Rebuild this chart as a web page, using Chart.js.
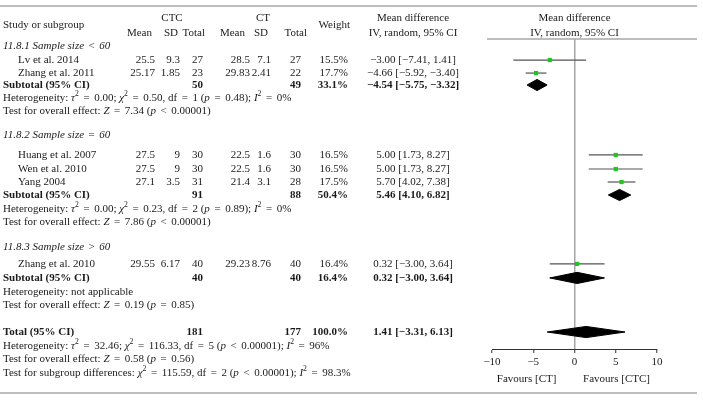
<!DOCTYPE html>
<html>
<head>
<meta charset="utf-8">
<script src="https://cdn.jsdelivr.net/npm/chart.js@4/dist/chart.umd.min.js"></script>
<style>
  html, body { margin: 0; padding: 0; background: #fff; }
  #forest { display: block; }
</style>
</head>
<body>
<canvas id="forest" width="703" height="401"></canvas>
<script>
// ---- data ----
var groups = ['11.8.1 Sample size < 60', '11.8.2 Sample size = 60', '11.8.3 Sample size > 60'];
var studies = ['Lv et al. 2014', 'Zhang et al. 2011', 'Huang et al. 2007', 'Wen et al. 2010', 'Yang 2004', 'Zhang et al. 2010'];
var ctcMean = [25.5, 25.17, 27.5, 27.5, 27.1, 29.55];
var ctcSd = [9.3, 1.85, 9, 9, 3.5, 6.17];
var ctcTotal = [27, 23, 30, 30, 31, 40];
var ctMean = [28.5, 29.83, 22.5, 22.5, 21.4, 29.23];
var ctSd = [7.1, 2.41, 1.6, 1.6, 3.1, 8.76];
var ctTotal = [27, 22, 30, 30, 28, 40];
var weights = [15.5, 17.7, 16.5, 16.5, 17.5, 16.4];
var md = [-3.00, -4.66, 5.00, 5.00, 5.70, 0.32];
var ciLow = [-7.41, -5.92, 1.73, 1.73, 4.02, -3.00];
var ciHigh = [1.41, -3.40, 8.27, 8.27, 7.38, 3.64];

var subCtc = [50, 91, 40];
var subCt = [49, 88, 40];
var subWeight = [33.1, 50.4, 16.4];
var subMd = [-4.54, 5.46, 0.32];
var subLow = [-5.75, 4.10, -3.00];
var subHigh = [-3.32, 6.82, 3.64];
var subHetero = [
  'Heterogeneity: _τ_^2 = 0.00; _χ_^2 = 0.50, df = 1 (_p_ = 0.48); _I_^2 = 0%',
  'Heterogeneity: _τ_^2 = 0.00; _χ_^2 = 0.23, df = 2 (_p_ = 0.89); _I_^2 = 0%',
  'Heterogeneity: not applicable'
];
var subTest = [
  'Test for overall effect: _Z_ = 7.34 (_p_ < 0.00001)',
  'Test for overall effect: _Z_ = 7.86 (_p_ < 0.00001)',
  'Test for overall effect: _Z_ = 0.19 (_p_ = 0.85)'
];

var totalCtc = 181, totalCt = 177, totalWeight = 100.0;
var totalMd = 1.41, totalLow = -3.31, totalHigh = 6.13;
var totalNotes = [
  'Heterogeneity: _τ_^2 = 32.46; _χ_^2 = 116.33, df = 5 (_p_ < 0.00001); _I_^2 = 96%',
  'Test for overall effect: _Z_ = 0.58 (_p_ = 0.56)',
  'Test for subgroup differences: _χ_^2 = 115.59, df = 2 (_p_ < 0.00001); _I_^2 = 98.3%'
];
var xTicks = [-10, -5, 0, 5, 10];

// ---- layout (row units, 13px per row from the header line) ----
var groupRows = [0.54, 7.38, 16.0];
var studyRows = [1.62, 2.62, 8.92, 10.0, 11.0, 17.3];
var subRows = [3.54, 12.0, 18.38];
var heteroRows = [4.54, 13.08, 19.46];
var testRows = [5.54, 14.08, 20.46];
var totalRow = 22.54;
var noteRows = [23.62, 24.62, 25.69];
var DIAMOND_H = 0.43;

var FONT = '"Liberation Serif", "DejaVu Serif", serif';
var SIZE = 11;
var OP_GAP = 1.8;   // extra room either side of = < >
var INK = '#1a1a1a';

function minus(s) { return String(s).replace(/-/g, '−'); }
function fix2(v) { return minus(v.toFixed(2)); }
function ciText(m, lo, hi) { return fix2(m) + ' [' + fix2(lo) + ', ' + fix2(hi) + ']'; }

function fontFor(italic, bold, size) {
  return (italic ? 'italic ' : '') + (bold ? 'bold ' : '') + size + 'px ' + FONT;
}

// tiny markup: _..._ italic, ^x superscript char
function parseRich(str) {
  var segs = [], italic = false, buf = '';
  var flush = function () { if (buf) segs.push({ t: buf, i: italic }); buf = ''; };
  for (var i = 0; i < str.length; i++) {
    var c = str[i];
    if (c === '_') {
      flush(); italic = !italic;
    } else if (c === '^') {
      flush();
      segs.push({ t: str[i + 1], i: false, sup: true });
      i++;
    } else if (c === '=' || c === '<' || c === '>') {
      flush();
      segs.push({ t: c, i: false, op: true });
    } else {
      buf += c;
    }
  }
  flush();
  return segs;
}

function drawRich(ctx, str, x, y, align, bold) {
  var segs = parseRich(str), w = 0;
  segs.forEach(function (s) {
    ctx.font = fontFor(s.i, bold, s.sup ? SIZE * 0.7 : SIZE);
    s.w = ctx.measureText(s.t).width + (s.op ? OP_GAP * 2 : 0);
    w += s.w;
  });
  var cx = align === 'right' ? x - w : (align === 'center' ? x - w / 2 : x);
  ctx.textAlign = 'left';
  ctx.textBaseline = 'middle';
  ctx.fillStyle = INK;
  segs.forEach(function (s) {
    ctx.font = fontFor(s.i, bold, s.sup ? SIZE * 0.7 : SIZE);
    ctx.fillText(s.t, cx + (s.op ? OP_GAP : 0), s.sup ? y - 4 : y);
    cx += s.w;
  });
}

// column anchors (right aligned numbers)
var col = { ctcMean: 155, ctcSd: 180, ctcTotal: 203, ctMean: 250, ctSd: 271, ctTotal: 301, weight: 348, md: 413 };

var tablePlugin = {
  id: 'forestTable',
  afterDraw: function (chart) {
    var ctx = chart.ctx;
    var ys = chart.scales.y, xs = chart.scales.x;
    var Y = function (r) { return ys.getPixelForValue(r); };
    ctx.save();

    // rules
    ctx.strokeStyle = '#a8a8a8';
    ctx.lineWidth = 1.5;
    ctx.beginPath();
    ctx.moveTo(0, 6); ctx.lineTo(697, 6);
    ctx.moveTo(487, chart.chartArea.top); ctx.lineTo(697, chart.chartArea.top);
    ctx.moveTo(0, 393); ctx.lineTo(697, 393);
    ctx.stroke();

    // header
    drawRich(ctx, 'Study or subgroup', 3, 25, 'left');
    drawRich(ctx, 'CTC', 172, 18, 'center');
    drawRich(ctx, 'CT', 263, 18, 'center');
    drawRich(ctx, 'Mean', 152, 33, 'right');
    drawRich(ctx, 'SD', 178, 33, 'right');
    drawRich(ctx, 'Total', 205, 33, 'right');
    drawRich(ctx, 'Mean', 245, 33, 'right');
    drawRich(ctx, 'SD', 268, 33, 'right');
    drawRich(ctx, 'Total', 307, 33, 'right');
    drawRich(ctx, 'Weight', 350, 25, 'right');
    drawRich(ctx, 'Mean difference', col.md, 18, 'center');
    drawRich(ctx, 'IV, random, 95% CI', col.md, 33, 'center');
    var zx = xs.getPixelForValue(0);
    drawRich(ctx, 'Mean difference', zx, 18, 'center');
    drawRich(ctx, 'IV, random, 95% CI', zx, 33, 'center');

    // studies
    studies.forEach(function (s, i) {
      var y = Y(studyRows[i]);
      drawRich(ctx, s, 18, y, 'left');
      drawRich(ctx, String(ctcMean[i]), col.ctcMean, y, 'right');
      drawRich(ctx, String(ctcSd[i]), col.ctcSd, y, 'right');
      drawRich(ctx, String(ctcTotal[i]), col.ctcTotal, y, 'right');
      drawRich(ctx, String(ctMean[i]), col.ctMean, y, 'right');
      drawRich(ctx, String(ctSd[i]), col.ctSd, y, 'right');
      drawRich(ctx, String(ctTotal[i]), col.ctTotal, y, 'right');
      drawRich(ctx, weights[i].toFixed(1) + '%', col.weight, y, 'right');
      drawRich(ctx, ciText(md[i], ciLow[i], ciHigh[i]), col.md, y, 'center');
    });

    // subgroups
    groups.forEach(function (g, k) {
      drawRich(ctx, '_' + g + '_', 3, Y(groupRows[k]), 'left');
      var y = Y(subRows[k]);
      drawRich(ctx, 'Subtotal (95% CI)', 3, y, 'left', true);
      drawRich(ctx, String(subCtc[k]), col.ctcTotal, y, 'right', true);
      drawRich(ctx, String(subCt[k]), col.ctTotal, y, 'right', true);
      drawRich(ctx, subWeight[k].toFixed(1) + '%', col.weight, y, 'right', true);
      drawRich(ctx, ciText(subMd[k], subLow[k], subHigh[k]), col.md, y, 'center', true);
      drawRich(ctx, subHetero[k], 3, Y(heteroRows[k]), 'left');
      drawRich(ctx, subTest[k], 3, Y(testRows[k]), 'left');
    });

    // overall
    var ty = Y(totalRow);
    drawRich(ctx, 'Total (95% CI)', 3, ty, 'left', true);
    drawRich(ctx, String(totalCtc), col.ctcTotal, ty, 'right', true);
    drawRich(ctx, String(totalCt), col.ctTotal, ty, 'right', true);
    drawRich(ctx, totalWeight.toFixed(1) + '%', col.weight, ty, 'right', true);
    drawRich(ctx, ciText(totalMd, totalLow, totalHigh), col.md, ty, 'center', true);
    totalNotes.forEach(function (t, k) {
      drawRich(ctx, t, 3, Y(noteRows[k]), 'left');
    });

    // favours labels under the axis
    drawRich(ctx, 'Favours [CT]', xs.getPixelForValue(-5.8), 379, 'center');
    drawRich(ctx, 'Favours [CTC]', xs.getPixelForValue(5.1), 379, 'center');

    ctx.restore();
  }
};

function diamond(m, lo, hi, r) {
  return {
    data: [{ x: lo, y: r }, { x: m, y: r - DIAMOND_H }, { x: hi, y: r }, { x: m, y: r + DIAMOND_H }, { x: lo, y: r }],
    showLine: true, fill: 'shape', tension: 0,
    backgroundColor: '#000', borderColor: '#000', borderWidth: 1,
    pointRadius: 0, order: 1
  };
}

var datasets = [];
datasets.push({
  data: md.map(function (v, i) { return { x: v, y: studyRows[i] }; }),
  pointStyle: 'rect', pointRadius: 3, backgroundColor: '#1bc81b', borderWidth: 0, order: 0
});
studies.forEach(function (s, i) {
  datasets.push({
    data: [{ x: ciLow[i], y: studyRows[i] }, { x: ciHigh[i], y: studyRows[i] }],
    showLine: true, borderColor: '#555', borderWidth: 1.2, pointRadius: 0, order: 2
  });
});
subMd.forEach(function (m, k) {
  datasets.push(diamond(m, subLow[k], subHigh[k], subRows[k]));
});
datasets.push(diamond(totalMd, totalLow, totalHigh, totalRow));

var ctx = document.getElementById('forest');
new Chart(ctx, {
  type: 'scatter',
  data: { datasets: datasets },
  options: {
    responsive: false,
    animation: false,
    devicePixelRatio: 1,
    layout: { padding: { left: 492, right: 46, top: 39, bottom: 0 } },
    plugins: { legend: { display: false }, tooltip: { enabled: false } },
    scales: {
      x: {
        type: 'linear', min: -10, max: 10,
        afterBuildTicks: function (s) { s.ticks = xTicks.map(function (v) { return { value: v }; }); },
        afterFit: function (s) { s.height = 52; },
        grid: {
          color: function (c) { return c.tick && c.tick.value === 0 ? '#a6a6a6' : 'rgba(0,0,0,0)'; },
          lineWidth: 1.5, tickColor: '#333', tickWidth: 1, tickLength: 4
        },
        border: { color: '#333', width: 1 },
        ticks: {
          color: INK, padding: 3, maxRotation: 0, autoSkip: false,
          font: { family: FONT, size: SIZE },
          callback: function (v) { return minus(v); }
        }
      },
      y: { type: 'linear', display: false, reverse: true, min: 0, max: 310 / 13 }
    }
  },
  plugins: [tablePlugin]
});
</script>
</body>
</html>
